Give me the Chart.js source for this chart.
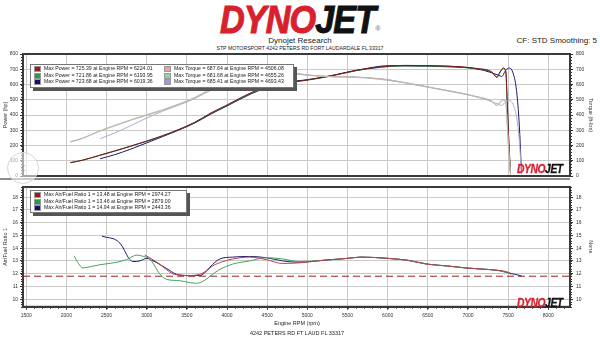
<!DOCTYPE html>
<html>
<head>
<meta charset="utf-8">
<script src="https://cdn.jsdelivr.net/npm/chart.js@4/dist/chart.umd.min.js"></script>
<style>
html,body{margin:0;padding:0;background:#fff;width:600px;height:337px;overflow:hidden;}
body{font-family:'Liberation Sans',Arial,sans-serif;color:#222;}
#wrap{position:relative;width:600px;height:337px;}
.abs{position:absolute;white-space:nowrap;}
canvas{position:absolute;left:0;}
#c1{top:48px;}
#c2{top:181px;}
.logo{font-weight:bold;font-style:italic;letter-spacing:-1px;}
.red{color:#d8202e;-webkit-text-stroke:1px #d8202e;}
.blk{color:#111;-webkit-text-stroke:1px #111;}
.legend{position:absolute;background:#fff;border:1px solid #777;box-shadow:3px 3px 0 #555;font-size:5.2px;line-height:5.7px;color:#222;}
.row{position:absolute;white-space:nowrap;}
.mk{display:inline-block;width:5px;height:4px;border:1px solid #999;margin-right:3px;vertical-align:middle;box-sizing:content-box;}
#nav{position:absolute;left:7px;top:152px;width:30px;height:30px;border-radius:50%;border:1px solid #d6d6d6;background:rgba(255,255,255,0.55);color:#999;font-size:14px;line-height:28px;text-align:center;}
</style>
</head>
<body>
<div id="wrap">
  <div class="abs logo" style="left:0;top:1px;width:600px;text-align:center;font-size:38px;line-height:38px;">
    <span style="display:inline-block;transform:scaleX(0.9);transform-origin:center;"><span class="red">DYNO</span><span class="blk">JET</span><span style="font-size:8px;font-style:normal;color:#888;-webkit-text-stroke:0;vertical-align:2px;letter-spacing:0;">®</span></span>
  </div>
  <div class="abs" style="left:0;width:600px;text-align:center;top:36px;font-size:8px;">Dynojet Research</div>
  <div class="abs" style="left:0;width:600px;text-align:center;top:44.5px;font-size:5.2px;">STP MOTORSPORT 4242 PETERS RD FORT LAUDARDALE FL 33317</div>
  <div class="abs" style="right:3px;top:36px;font-size:8px;font-weight:normal;">CF: STD Smoothing: 5</div>

  <canvas id="c1" width="600" height="134"></canvas>
  <canvas id="c2" width="600" height="156"></canvas>

  <div id="leg1" class="legend" style="left:30px;top:64px;width:262px;height:22px;"></div>
  <div id="leg2" class="legend" style="left:30px;top:190px;width:155px;height:21px;"></div>

  <div class="abs logo" style="left:517px;top:163px;font-size:12px;line-height:12px;letter-spacing:-0.5px;"><span style="display:inline-block;transform:scaleX(0.86);transform-origin:left;"><span class="red" style="-webkit-text-stroke:0.3px #d8202e">DYNO</span><span class="blk" style="-webkit-text-stroke:0.3px #111">JET</span></span></div>
  <div class="abs logo" style="left:517px;top:297px;font-size:12px;line-height:12px;letter-spacing:-0.5px;"><span style="display:inline-block;transform:scaleX(0.86);transform-origin:left;"><span class="red" style="-webkit-text-stroke:0.3px #d8202e">DYNO</span><span class="blk" style="-webkit-text-stroke:0.3px #111">JET</span></span></div>

  <div class="abs" style="left:0;width:594px;text-align:center;top:320px;font-size:5.5px;">Engine RPM (rpm)</div>
  <div class="abs" style="left:0;width:594px;text-align:center;top:330px;font-size:5.5px;">4242 PETERS RD FT LAUD FL 33317</div>
  <div id="nav">&#8249;</div>
</div>

<script>
// ---------- tick labels ----------
const rpmTicks = [1500, 2000, 2500, 3000, 3500, 4000, 4500, 5000, 5500, 6000, 6500, 7000, 7500, 8000];
const powerTicks = [0, 100, 200, 300, 400, 500, 600, 700, 800];
const afrTicks = [10, 11, 12, 13, 14, 15, 16, 17, 18];

// ---------- run 1 (red) ----------
const redRpm    = [2050, 2200, 2400, 2600, 2800, 3000, 3200, 3400, 3600, 3800, 4000, 4200, 4400, 4506, 4700, 5000, 5300, 5600, 5900, 6224, 6500, 6800, 7100, 7300, 7360, 7400, 7440, 7470, 7490, 7510, 7530];
const redPower  = [88.2, 103.9, 133.9, 164.4, 196.2, 229.6, 265.0, 305.6, 353.0, 413.9, 466.1, 521.4, 569.7, 589.9, 606.7, 630.2, 658.0, 693.1, 714.5, 725.4, 724.0, 718.6, 705.7, 681.1, 647.4, 683.4, 708.3, 689.8, 470.6, 214.5, 14.3];
const redTorque = [226, 248, 293, 332, 368, 402, 435, 472, 515, 572, 612, 652, 680, 687.6, 678, 662, 652, 650, 636, 612, 585, 555, 522, 490, 462, 485, 500, 485, 330, 150, 10];

// ---------- run 2 (green) ----------
const greenRpm    = [2050, 2200, 2400, 2600, 2800, 3000, 3200, 3400, 3600, 3800, 4000, 4200, 4400, 4655, 5000, 5300, 5600, 5900, 6194, 6500, 6800, 7100, 7300, 7360, 7400, 7440, 7470, 7490, 7510, 7530];
const greenPower  = [86.7, 103.0, 132.5, 162.4, 194.6, 227.3, 262.0, 303.0, 349.6, 408.8, 460.8, 515.8, 563.0, 604.2, 628.3, 655.9, 689.9, 712.2, 721.9, 720.3, 714.7, 703.0, 678.3, 647.4, 682.0, 705.5, 685.6, 456.4, 200.2, 14.3];
const greenTorque = [222, 246, 290, 328, 365, 398, 430, 468, 510, 565, 605, 645, 672, 681.7, 660, 650, 647, 634, 612, 582, 552, 520, 488, 462, 484, 498, 482, 320, 140, 10];

// ---------- run 3 (blue) ----------
const blueRpm    = [2420, 2600, 2800, 3000, 3200, 3400, 3600, 3800, 4000, 4200, 4400, 4693, 5000, 5300, 5600, 6019, 6300, 6600, 6900, 7200, 7380, 7420, 7470, 7517, 7560, 7600, 7630, 7650, 7666];
const bluePower  = [112.9, 139.6, 175.9, 217.1, 258.9, 301.0, 348.2, 406.6, 459.3, 513.4, 561.3, 612.5, 631.2, 658.0, 690.9, 723.7, 722.1, 721.3, 716.0, 692.3, 660.4, 652.7, 694.1, 708.5, 676.5, 578.8, 406.8, 218.5, 14.6];
const blueTorque = [245, 282, 330, 380, 425, 465, 508, 562, 603, 642, 670, 685.4, 663, 652, 648, 631.5, 602, 574, 545, 505, 470, 462, 488, 495, 470, 400, 280, 150, 10];

// ---------- air / fuel ratio ----------
const redAfrRpm = [2974, 3050, 3160, 3250, 3320, 3420, 3500, 3660, 3740, 3820, 3950, 4070, 4280, 4490, 4690, 4900, 5200, 5500, 5670, 6000, 6250, 6490, 6750, 6970, 7200, 7380, 7500, 7530];
const redAfr    = [13.48, 13.2, 12.75, 12.3, 12.0, 11.9, 11.85, 11.95, 12.2, 12.6, 12.95, 13.15, 13.3, 13.1, 12.8, 12.85, 13.05, 13.2, 13.3, 13.2, 13.05, 12.75, 12.6, 12.45, 12.35, 12.25, 12.1, 11.95];
const greenAfrRpm = [2095, 2150, 2207, 2300, 2418, 2530, 2630, 2750, 2879, 2960, 3040, 3100, 3160, 3250, 3410, 3535, 3620, 3700, 3800, 3900, 4070, 4280, 4490, 4700, 4900, 5200, 5500, 5670, 6000, 6250, 6490, 6750, 6970, 7200, 7380, 7530];
const greenAfr    = [13.4, 12.8, 12.45, 12.55, 12.7, 12.8, 12.9, 13.1, 13.46, 13.35, 13.15, 12.6, 12.0, 11.55, 11.45, 11.3, 11.25, 11.4, 11.85, 12.3, 12.75, 13.0, 13.25, 13.15, 12.95, 13.05, 13.2, 13.3, 13.2, 13.05, 12.75, 12.6, 12.45, 12.35, 12.25, 12.05];
const blueAfrRpm = [2443, 2500, 2580, 2650, 2700, 2750, 2790, 2830, 2915, 3000, 3080, 3170, 3250, 3370, 3500, 3660, 3720, 3785, 3910, 4070, 4280, 4490, 4690, 4900, 5200, 5500, 5670, 6000, 6250, 6490, 6750, 6970, 7200, 7380, 7540, 7620, 7670];
const blueAfr    = [14.94, 14.85, 14.75, 14.5, 14.1, 13.5, 13.1, 12.95, 13.0, 13.2, 13.0, 12.7, 12.4, 11.95, 11.85, 11.85, 12.05, 12.5, 13.15, 13.3, 13.35, 13.25, 13.0, 12.9, 13.05, 13.2, 13.3, 13.2, 13.05, 12.75, 12.6, 12.45, 12.35, 12.25, 12.0, 11.9, 11.8];
const afrTarget = 11.8;

// ---------- legend texts ----------
const powerLegend  = ['Max Power  =  725.39 at Engine RPM = 6224.01', 'Max Power  =  721.86 at Engine RPM = 6193.95', 'Max Power  =  723.68 at Engine RPM = 6019.36'];
const torqueLegend = ['Max Torque = 687.64 at Engine RPM = 4506.08', 'Max Torque = 681.68 at Engine RPM = 4655.26', 'Max Torque = 685.41 at Engine RPM = 4693.43'];
const afrLegend    = ['Max Air/Fuel Ratio 1 = 13.48 at Engine RPM = 2974.27', 'Max Air/Fuel Ratio 1 = 13.46 at Engine RPM = 2879.00', 'Max Air/Fuel Ratio 1 = 14.94 at Engine RPM = 2443.36'];

// ---------- styles ----------
const powerColors  = ['#7e1717', '#1c6a33', '#191970'];
const torqueColors = ['#c9adad', '#abc6ae', '#adadc9'];
const afrColors    = ['#b8404c', '#3fa65a', '#1e1e6e'];

Chart.defaults.font.family = "'Liberation Sans', Arial, sans-serif";
Chart.defaults.color = '#333';

const pts = (xs, ys) => xs.map((x, i) => ({x: x, y: ys[i]}));
const ds = (label, xs, ys, color, axis) => ({
  label, data: pts(xs, ys), borderColor: color, backgroundColor: color,
  borderWidth: 1, pointRadius: 0, fill: false, yAxisID: axis,
  cubicInterpolationMode: 'monotone'
});

const gridStyle = {color: '#c9c9c9', borderDash: [3, 2], tickColor: '#333', tickBorderDash: [], tickLength: 3, tickWidth: 1};
const plainLabel = v => String(v);

const framePlugin = {
  id: 'frame',
  beforeDatasetsDraw(chart, args, opts) {
    if (opts.target === undefined) return;
    const a = chart.chartArea, ctx = chart.ctx;
    const y = chart.scales.y.getPixelForValue(opts.target);
    ctx.save();
    ctx.strokeStyle = '#a02020'; ctx.lineWidth = 1; ctx.setLineDash([7, 4]);
    ctx.beginPath(); ctx.moveTo(a.left, y); ctx.lineTo(a.right, y); ctx.stroke();
    ctx.restore();
  },
  afterDraw(chart, args, opts) {
    const a = chart.chartArea, ctx = chart.ctx;
    ctx.save();
    ctx.strokeStyle = '#333'; ctx.lineWidth = 1; ctx.setLineDash([]);
    (opts.minor || []).forEach(m => {
      const s = chart.scales[m.id];
      for (let v = m.from; v <= m.to + 1e-9; v += m.step) {
        const p = Math.round(s.getPixelForValue(v)) + 0.5;
        ctx.beginPath();
        if (m.side === 'left') { ctx.moveTo(a.left - 2, p); ctx.lineTo(a.left, p); }
        else if (m.side === 'right') { ctx.moveTo(a.right, p); ctx.lineTo(a.right + 2, p); }
        else { ctx.moveTo(p, a.bottom); ctx.lineTo(p, a.bottom + 2); }
        ctx.stroke();
      }
    });
    ctx.strokeStyle = '#3a3a3a'; ctx.lineWidth = 2;
    ctx.strokeRect(a.left, a.top, a.right - a.left, a.bottom - a.top);
    if (opts.doubleBottom) {
      ctx.lineWidth = 1.5; ctx.strokeStyle = '#666';
      ctx.beginPath(); ctx.moveTo(0, a.bottom + 3); ctx.lineTo(a.right, a.bottom + 3); ctx.stroke();
    }
    ctx.restore();
  }
};

const setTicks = arr => s => { s.ticks = arr.map(v => ({value: v})); };

// ---------- top chart: power & torque ----------
new Chart(document.getElementById('c1'), {
  type: 'line',
  data: {datasets: [
    ds('Torque 1', redRpm, redTorque, torqueColors[0], 'y2'),
    ds('Torque 2', greenRpm, greenTorque, torqueColors[1], 'y2'),
    ds('Torque 3', blueRpm, blueTorque, torqueColors[2], 'y2'),
    ds('Power 1', redRpm, redPower, powerColors[0], 'y'),
    ds('Power 2', greenRpm, greenPower, powerColors[1], 'y'),
    ds('Power 3', blueRpm, bluePower, powerColors[2], 'y')
  ]},
  options: {
    responsive: false, animation: false, events: [],
    layout: {padding: {top: 5, bottom: 0, left: 0, right: 0}},
    plugins: {legend: {display: false}, tooltip: {enabled: false},
      frame: {doubleBottom: true, minor: [
        {id: 'y', side: 'left', from: 0, to: 800, step: 20},
        {id: 'y2', side: 'right', from: 0, to: 800, step: 20}
      ]}},
    scales: {
      x: {type: 'linear', min: 1460, max: 8270, afterBuildTicks: setTicks(rpmTicks),
        ticks: {display: false}, grid: {...gridStyle, drawTicks: false},
        border: {display: true, color: '#333', width: 2}, afterFit: s => { s.height = 5; }},
      y: {position: 'left', min: 0, max: 800, afterBuildTicks: setTicks(powerTicks),
        ticks: {font: {size: 5}, padding: 2, color: '#333', callback: plainLabel}, grid: gridStyle,
        border: {color: '#222', width: 2},
        title: {display: true, text: 'Power (hp)', font: {size: 5.5}, padding: {top: 2, bottom: 0}, color: '#333'},
        afterFit: s => { s.width = 23; }},
      y2: {position: 'right', min: 0, max: 800, afterBuildTicks: setTicks(powerTicks),
        ticks: {font: {size: 5}, padding: 3, color: '#333', callback: plainLabel}, grid: {...gridStyle, drawOnChartArea: false},
        border: {color: '#222', width: 2},
        title: {display: true, text: 'Torque (ft-lbs)', font: {size: 5.5}, padding: {top: 6, bottom: 0}, color: '#333'},
        afterFit: s => { s.width = 30; }}
    }
  },
  plugins: [framePlugin]
});

// ---------- bottom chart: air / fuel ratio ----------
new Chart(document.getElementById('c2'), {
  type: 'line',
  data: {datasets: [
    ds('AFR 1', redAfrRpm, redAfr, afrColors[0], 'y'),
    ds('AFR 2', greenAfrRpm, greenAfr, afrColors[1], 'y'),
    ds('AFR 3', blueAfrRpm, blueAfr, afrColors[2], 'y')
  ]},
  options: {
    responsive: false, animation: false, events: [],
    layout: {padding: {top: 3.6, bottom: 0, left: 0, right: 0}},
    plugins: {legend: {display: false}, tooltip: {enabled: false},
      frame: {target: afrTarget, minor: [
        {id: 'y', side: 'left', from: 9.4, to: 18.8, step: 0.2},
        {id: 'y2', side: 'right', from: 9.4, to: 18.8, step: 0.2},
        {id: 'x', side: 'bottom', from: 1500, to: 8200, step: 100}
      ]}},
    scales: {
      x: {type: 'linear', min: 1460, max: 8270, afterBuildTicks: setTicks(rpmTicks),
        ticks: {font: {size: 5}, padding: 3, color: '#333', maxRotation: 0, callback: plainLabel}, grid: gridStyle,
        border: {display: true, color: '#333', width: 2}, afterFit: s => { s.height = 30.2; }},
      y: {position: 'left', min: 9.4, max: 18.8, afterBuildTicks: setTicks(afrTicks),
        ticks: {font: {size: 5}, padding: 2, color: '#333', callback: plainLabel}, grid: gridStyle,
        border: {color: '#222', width: 2},
        title: {display: true, text: 'Air/Fuel Ratio 1', font: {size: 5.5}, padding: {top: 2, bottom: 0}, color: '#333'},
        afterFit: s => { s.width = 23; }},
      y2: {position: 'right', min: 9.4, max: 18.8, afterBuildTicks: setTicks(afrTicks),
        ticks: {font: {size: 5}, padding: 3, color: '#333', callback: plainLabel}, grid: {...gridStyle, drawOnChartArea: false},
        border: {color: '#222', width: 2},
        title: {display: true, text: 'None', font: {size: 5.5}, padding: {top: 6, bottom: 0}, color: '#333'},
        afterFit: s => { s.width = 30; }}
    }
  },
  plugins: [framePlugin]
});

// ---------- legends ----------
function buildLegend(el, cols) {
  cols.forEach(col => {
    col.texts.forEach((t, i) => {
      const r = document.createElement('div');
      r.className = 'row';
      r.style.left = (3 + col.offset) + 'px';
      r.style.top = (1 + i * 6.6) + 'px';
      const m = document.createElement('span');
      m.className = 'mk';
      m.style.background = col.colors[i];
      r.appendChild(m);
      r.appendChild(document.createTextNode(t));
      el.appendChild(r);
    });
  });
}
buildLegend(document.getElementById('leg1'), [
  {texts: powerLegend, colors: ['#a01818', '#20a040', '#101070'], offset: 0},
  {texts: torqueLegend, colors: ['#e6a3a3', '#8fd49f', '#9a9ad8'], offset: 130}
]);
buildLegend(document.getElementById('leg2'), [
  {texts: afrLegend, colors: ['#a01818', '#20a040', '#101070'], offset: 0}
]);
</script>
</body>
</html>
